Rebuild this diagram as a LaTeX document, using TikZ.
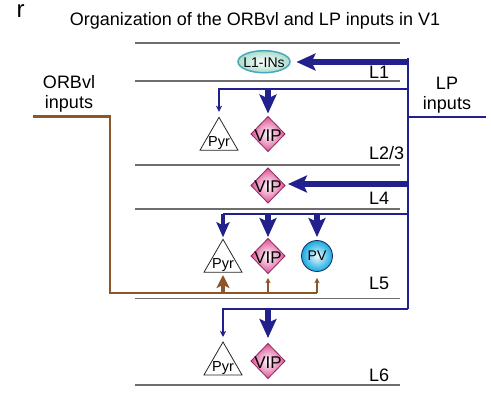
\documentclass[tikz,border=0pt]{standalone}
\usepackage{fontspec}
\setmainfont{Liberation Sans}
\usetikzlibrary{arrows.meta, shapes.geometric}
\definecolor{lpblue}{RGB}{34,32,140}
\definecolor{orbbrown}{RGB}{140,86,40}
\definecolor{layergray}{RGB}{110,110,110}
\definecolor{vippink}{RGB}{222,80,150}
\definecolor{vipedge}{RGB}{140,40,90}
\definecolor{pvcyan}{RGB}{20,170,225}
\definecolor{pvedge}{RGB}{30,40,90}
\definecolor{inteal}{RGB}{70,170,185}
\definecolor{inmint}{RGB}{170,220,205}

\begin{document}
\begin{tikzpicture}[x=1pt, y=-1pt,
    layer/.style={draw=layergray, line width=1.2pt},
    layername/.style={anchor=base west, inner sep=0pt, font=\fontsize{18}{21}\selectfont},
    side/.style={anchor=north, align=center, inner sep=0pt, font=\fontsize{18}{20.5}\selectfont},
    lpwire/.style={draw=lpblue, line width=2.5pt},
    lpsmall/.style={lpwire, -{Stealth[length=6pt, width=6pt, inset=1.5pt]}},
    lpmid/.style={draw=lpblue, line width=4pt, -{Stealth[length=15pt, width=13pt, inset=3pt]}},
    lpbig/.style={draw=lpblue, line width=6.5pt, -{Stealth[length=19pt, width=17pt, inset=4pt]}},
    orbwire/.style={draw=orbbrown, line width=2.5pt},
    orbsmall/.style={draw=orbbrown, line width=2pt, -{Stealth[length=5pt, width=5pt, inset=1pt]}},
    orbmid/.style={draw=orbbrown, line width=4.5pt, -{Stealth[length=13pt, width=13pt, inset=3pt]}},
    pyr/.style={regular polygon, regular polygon sides=3, minimum size=44pt, inner sep=0pt, outer sep=0pt,
        draw=black!85, line width=0.8pt, fill=white,
        label={[font=\fontsize{14.5}{16}\selectfont, yshift=-4pt]center:Pyr}},
    vip/.style={diamond, minimum width=34pt, minimum height=35pt, inner sep=0pt, outer sep=0pt,
        draw=vipedge, line width=0.8pt, inner color=white, outer color=vippink,
        label={[font=\fontsize{17}{19}\selectfont, yshift=-1.5pt]center:VIP}},
    pv/.style={circle, minimum size=31pt, inner sep=0pt, outer sep=0pt,
        draw=pvedge, line width=0.8pt, inner color=pvcyan!8, outer color=pvcyan,
        label={[font=\fontsize{14}{16}\selectfont]center:PV}},
    ins/.style={ellipse, minimum width=52pt, minimum height=22pt, inner sep=0pt, outer sep=0pt,
        draw=inteal, line width=1.5pt, inner color=white, outer color=inmint,
        label={[font=\fontsize{14}{16}\selectfont, yshift=-1pt]center:L1-INs}}]
    \useasboundingbox (0,0) rectangle (491,401);

    \node[anchor=base west, inner sep=0pt, font=\fontsize{24}{27}\selectfont] (tag) at (16.5,17.5) {r};
    \node[anchor=base, inner sep=0pt, font=\fontsize{18}{21}\selectfont] (ttl) at (255,26) {Organization of the ORBvl and LP inputs in V1};

    \draw[layer] (135,43) -- (400,43);
    \draw[layer] (135,81) -- (400,81);
    \draw[layer] (135,165) -- (400,165);
    \draw[layer] (135,209) -- (400,209);
    \draw[layer] (135,298.5) -- (400,298.5);
    \draw[layer] (135,385) -- (400,385);
    \node[layername] (ln1) at (369,79) {L1};
    \node[layername] (ln23) at (369,160) {L2/3};
    \node[layername] (ln4) at (369,205) {L4};
    \node[layername] (ln5) at (369,290) {L5};
    \node[layername] (ln6) at (369,382) {L6};

    \node[side] (orbtxt) at (69,75) {ORBvl\\inputs};
    \node[side] (lptxt) at (447,76.5) {LP\\inputs};

    \node[ins] (in1) at (264,61.7) {};
    \node[pyr] (pyr23) at (219,139.3) {};
    \node[vip] (vip23) at (268,134) {};
    \node[vip] (vip4) at (268,185.5) {};
    \node[pyr] (pyr5) at (223,261.3) {};
    \node[vip] (vip5) at (268,256) {};
    \node[pv] (pv5) at (317,256) {};
    \node[pyr] (pyr6) at (223,364) {};
    \node[vip] (vip6) at (268,361) {};

    \coordinate (lp) at (486,117);
    \coordinate (ttop) at (408,58.5);
    \coordinate (t1) at (408,62);
    \coordinate (t23) at (408,89);
    \coordinate (tin) at (408,117);
    \coordinate (t4) at (408,184);
    \coordinate (t5) at (408,214);
    \coordinate (t6) at (408,309);
    \coordinate (orb) at (33,116.3);
    \coordinate (o1) at (110,116.3);
    \coordinate (o5) at (110,293);

    \draw[lpwire] (ttop) -- (t6);
    \draw[lpwire] (lp) -- (tin);
    \draw[lpbig, shorten >=6.5pt] (t1) -- (in1.east |- t1);
    \draw[lpsmall, shorten >=5.5pt] (t23) -| (pyr23.north);
    \draw[lpbig, shorten >=3pt] (vip23 |- t23) -- (vip23.north);
    \draw[lpbig, shorten >=3pt] (t4) -- (vip4.east |- t4);
    \draw[lpwire] (t5) -- (pyr5 |- t5);
    \draw[lpmid, shorten >=2pt] (pyr5 |- t5) -- (pyr5.north);
    \draw[lpbig, shorten >=1.5pt] (vip5 |- t5) -- (vip5.north);
    \draw[lpbig, shorten >=3.5pt] (pv5 |- t5) -- (pv5.north);
    \draw[lpsmall, shorten >=5pt] (t6) -| (pyr6.north);
    \draw[lpbig, shorten >=5.5pt] (vip6 |- t6) -- (vip6.north);

    \draw[orbwire] (orb) -- (o1) -- (o5) -- (pv5 |- o5);
    \draw[orbmid, shorten >=2.7pt] (pyr5 |- o5) -- (pyr5.south);
    \draw[orbsmall, shorten >=4.5pt] (vip5 |- o5) -- (vip5.south);
    \draw[orbsmall, shorten >=6.5pt] (pv5 |- o5) -- (pv5.south);
\end{tikzpicture}
\end{document}
